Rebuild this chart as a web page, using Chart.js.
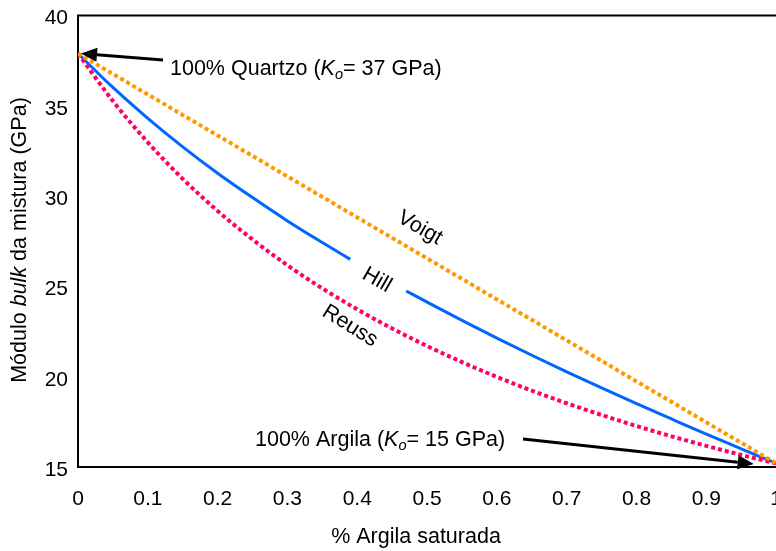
<!DOCTYPE html>
<html>
<head>
<meta charset="utf-8">
<script src="https://cdn.jsdelivr.net/npm/chart.js@4/dist/chart.umd.min.js"></script>
<style>
  html, body { margin: 0; padding: 0; background: #fff; overflow: hidden; }
  canvas { display: block; position: absolute; left: 0; top: -7px; }
</style>
</head>
<body>
<canvas id="c" width="802" height="558"></canvas>
<script>
// Fraction of saturated clay (x) and bulk modulus (GPa)
const clayFraction = [0, 0.05, 0.1, 0.15, 0.2, 0.25, 0.3, 0.35, 0.4, 0.45, 0.5, 0.55, 0.6, 0.65, 0.7, 0.75, 0.8, 0.85, 0.9, 0.95, 1];
const voigtValues  = [37.9, 36.77, 35.63, 34.50, 33.36, 32.23, 31.09, 29.96, 28.82, 27.69, 26.55, 25.42, 24.28, 23.15, 22.01, 20.88, 19.74, 18.61, 17.47, 16.34, 15.2];
const reussValues  = [37.9, 35.27, 32.98, 30.96, 29.18, 27.60, 26.17, 24.89, 23.73, 22.67, 21.70, 20.81, 19.99, 19.23, 18.53, 17.88, 17.27, 16.70, 16.17, 15.67, 15.2];
// Hill curve has a break where its label sits (null = gap)
const hillFraction = [0, 0.05, 0.1, 0.15, 0.2, 0.25, 0.3, 0.35, 0.39, 0.43, 0.47, 0.5, 0.55, 0.6, 0.65, 0.7, 0.75, 0.8, 0.85, 0.9, 0.95, 1];
const hillValues   = [37.9, 36.02, 34.31, 32.73, 31.27, 29.92, 28.63, 27.43, 26.50, null, 24.75, 24.13, 23.12, 22.14, 21.19, 20.27, 19.38, 18.51, 17.66, 16.82, 16.01, 15.2];
const xTickLabels = ['0', '0.1', '0.2', '0.3', '0.4', '0.5', '0.6', '0.7', '0.8', '0.9', '1'];
const yTickLabels = ['15', '20', '25', '30', '35', '40'];
const endPoints = { quartz: { x: 0, y: 37.9 }, clay: { x: 0.965, y: 15.2 } };

const FONT = '"Liberation Sans", Arial, sans-serif';
const TXT = 21.5;
const OFF = 7; // canvas is shifted up by this many pixels
const toPts = (xs, ys) => xs.map((x, i) => ({ x: x, y: ys[i] }));

function drawRich(ctx, parts, x, y, size) {
  let cx = x;
  for (const p of parts) {
    const fs = p[2] ? size * 0.68 : size;
    ctx.font = (p[1] ? 'italic ' : '') + fs + 'px ' + FONT;
    ctx.fillText(p[0], cx, y + (p[2] ? 4 : 0));
    cx += ctx.measureText(p[0]).width;
  }
}
function richWidth(ctx, parts, size) {
  let w = 0;
  for (const p of parts) {
    const fs = p[2] ? size * 0.68 : size;
    ctx.font = (p[1] ? 'italic ' : '') + fs + 'px ' + FONT;
    w += ctx.measureText(p[0]).width;
  }
  return w;
}
function arrow(ctx, x1, y1, x2, y2) {
  const ang = Math.atan2(y2 - y1, x2 - x1);
  const L = 16, W = 7;
  const bx = x2 - L * Math.cos(ang), by = y2 - L * Math.sin(ang);
  ctx.strokeStyle = '#000'; ctx.lineWidth = 3;
  ctx.beginPath(); ctx.moveTo(x1, y1); ctx.lineTo(bx, by); ctx.stroke();
  ctx.fillStyle = '#000';
  ctx.beginPath();
  ctx.moveTo(x2, y2);
  ctx.lineTo(bx + W * Math.sin(ang), by - W * Math.cos(ang));
  ctx.lineTo(bx - W * Math.sin(ang), by + W * Math.cos(ang));
  ctx.closePath(); ctx.fill();
}

const annotations = {
  id: 'annotations',
  afterDraw(chart) {
    const ctx = chart.ctx, ca = chart.chartArea;
    const xs = chart.scales.x, ys = chart.scales.y;
    ctx.save();
    ctx.strokeStyle = '#000'; ctx.lineWidth = 2;
    ctx.beginPath(); ctx.moveTo(ca.left - 1, ca.top); ctx.lineTo(ca.right + 30, ca.top); ctx.stroke();

    ctx.translate(0, OFF); // annotation coordinates below are page coordinates
    ctx.fillStyle = '#000';
    ctx.textBaseline = 'alphabetic';
    ctx.textAlign = 'left';
    drawRich(ctx, [['100% Quartzo (', false], ['K', true], ['o', true, true], ['= 37 GPa)', false]], 170, 75, TXT);
    arrow(ctx, 163, 60, xs.getPixelForValue(endPoints.quartz.x) + 3, ys.getPixelForValue(endPoints.quartz.y) - OFF);
    drawRich(ctx, [['100% Argila (', false], ['K', true], ['o', true, true], ['= 15 GPa)', false]], 255, 446, TXT);
    arrow(ctx, 523, 439, xs.getPixelForValue(endPoints.clay.x) + 2, ys.getPixelForValue(endPoints.clay.y) - OFF + 0.5);

    const rot = (txt, x, y, deg) => {
      ctx.save(); ctx.translate(x, y); ctx.rotate(deg * Math.PI / 180);
      ctx.font = TXT + 'px ' + FONT; ctx.textAlign = 'center'; ctx.textBaseline = 'middle';
      ctx.fillText(txt, 0, 0); ctx.restore();
    };
    rot('Voigt', 420, 228, 30);
    rot('Hill', 377, 280, 30);
    rot('Reuss', 350, 326, 32);

    ctx.textAlign = 'left'; ctx.textBaseline = 'middle';
    const xt = [['% Argila saturada', false]];
    drawRich(ctx, xt, 416 - richWidth(ctx, xt, TXT) / 2, 537, TXT);
    const yt = [['Módulo ', false], ['bulk', true], [' da mistura (GPa)', false]];
    ctx.save(); ctx.translate(20, 240); ctx.rotate(-Math.PI / 2);
    drawRich(ctx, yt, -richWidth(ctx, yt, TXT) / 2, 0, TXT);
    ctx.restore();
    ctx.restore();
  }
};

new Chart(document.getElementById('c'), {
  type: 'line',
  data: {
    datasets: [
      { label: 'Voigt', data: toPts(clayFraction, voigtValues), borderColor: '#FF9900', borderWidth: 4, borderDash: [4, 3], pointRadius: 0, tension: 0 },
      { label: 'Reuss', data: toPts(clayFraction, reussValues), borderColor: '#FF0066', borderWidth: 4, borderDash: [4, 3], pointRadius: 0, cubicInterpolationMode: 'monotone' },
      { label: 'Hill', data: toPts(hillFraction, hillValues), borderColor: '#0066FF', borderWidth: 3, pointRadius: 0, spanGaps: false, cubicInterpolationMode: 'monotone' }
    ]
  },
  options: {
    responsive: false,
    animation: false,
    events: [],
    layout: { padding: { top: 15, right: 15, left: 0, bottom: 0 } },
    plugins: { legend: { display: false }, tooltip: { enabled: false } },
    scales: {
      x: {
        type: 'linear', min: 0, max: 1,
        afterFit: s => { s.height = 84; },
        afterBuildTicks: s => { s.ticks = xTickLabels.map(v => ({ value: parseFloat(v) })); },
        ticks: { padding: 20, color: '#000', font: { family: FONT, size: 21 }, maxRotation: 0, autoSkip: false,
                 callback: (v, i) => xTickLabels[i] },
        grid: { display: false, drawTicks: false },
        border: { display: true, color: '#000', width: 2 }
      },
      y: {
        type: 'linear', min: 15, max: 40,
        afterFit: s => { s.width = 78; },
        afterBuildTicks: s => { s.ticks = yTickLabels.map(v => ({ value: parseFloat(v) })); },
        ticks: { padding: 10, labelOffset: 3, color: '#000', font: { family: FONT, size: 21 }, callback: (v, i) => yTickLabels[i] },
        grid: { display: false, drawTicks: false },
        border: { display: true, color: '#000', width: 2 }
      }
    }
  },
  plugins: [annotations]
});
</script>
</body>
</html>
